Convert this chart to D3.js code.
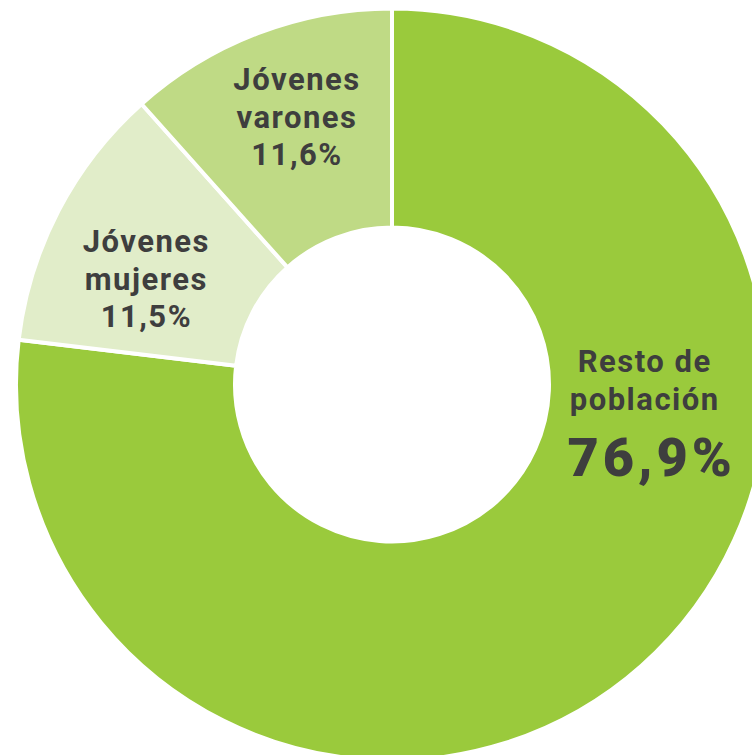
<!DOCTYPE html>
<html>
<head>
    <meta charset="utf-8">
    <script src="https://d3js.org/d3.v7.min.js"></script>
    <style>
        body {
            margin: 0;
            background: #ffffff;
        }

        svg {
            display: block;
        }

        .lbl {
            font-family: Roboto, "DejaVu Sans", sans-serif;
            font-weight: bold;
            fill: #3e3e3e;
        }
    </style>
</head>
<body>
    <svg id="chart" width="752" height="755"></svg>
    <script>
        // data, in drawing order (clockwise from 12 o'clock)
        const categories = ["Resto de población", "Jóvenes mujeres", "Jóvenes varones"];
        const values = [76.9, 11.5, 11.6];
        const labelLines = [
            ["Resto de", "población", "76,9%"],
            ["Jóvenes", "mujeres", "11,5%"],
            ["Jóvenes", "varones", "11,6%"]
        ];
        const colors = ["#9aca3c", "#e1edc9", "#bfda85"];

        // where each label block sits (angle in degrees from top, radius from centre)
        const labelPlacement = [
            { angle: 87.2, radius: 253 },
            { angle: -61.7, radius: 279 },
            { angle: -17.9, radius: 309 }
        ];

        const width = 752;
        const height = 755;
        const cx = 392, cy = 384.5;
        const outerR = 376;
        const innerR = 157;

        const svg = d3.select("#chart");
        const g = svg.append("g").attr("transform", `translate(${cx},${cy})`);

        const pie = d3.pie().sort(null).value(d => d);
        const arc = d3.arc().innerRadius(innerR).outerRadius(outerR);

        const slices = pie(values);

        g.selectAll("path")
            .data(slices)
            .enter()
            .append("path")
            .attr("d", arc)
            .attr("fill", (d, i) => colors[i])
            .attr("stroke", "#ffffff")
            .attr("stroke-width", 4)
            .attr("stroke-linejoin", "miter");

        // labels
        slices.forEach((s, i) => {
            const p = labelPlacement[i];
            const a = p.angle * Math.PI / 180;
            const x = Math.sin(a) * p.radius;
            const y = -Math.cos(a) * p.radius;
            const big = i === 0;

            const t = g.append("text")
                .attr("class", "lbl")
                .attr("text-anchor", "middle")
                .attr("transform", `translate(${x},${y})`);

            labelLines[i].forEach((line, j) => {
                const isValue = j === labelLines[i].length - 1;
                let dy = j === 0 ? 0 : (big && isValue ? 66 : 38);
                if (!big && isValue) dy = 37;
                t.append("tspan")
                    .attr("x", big && isValue ? 7 : 0)
                    .attr("dy", dy)
                    .style("font-size", big && isValue ? "54px" : "31px")
                    .style("font-weight", big && isValue ? 900 : 700)
                    .style("letter-spacing", big && isValue ? "4px" : "1.5px")
                    .text(line);
            });
        });
    </script>
</body>
</html>
